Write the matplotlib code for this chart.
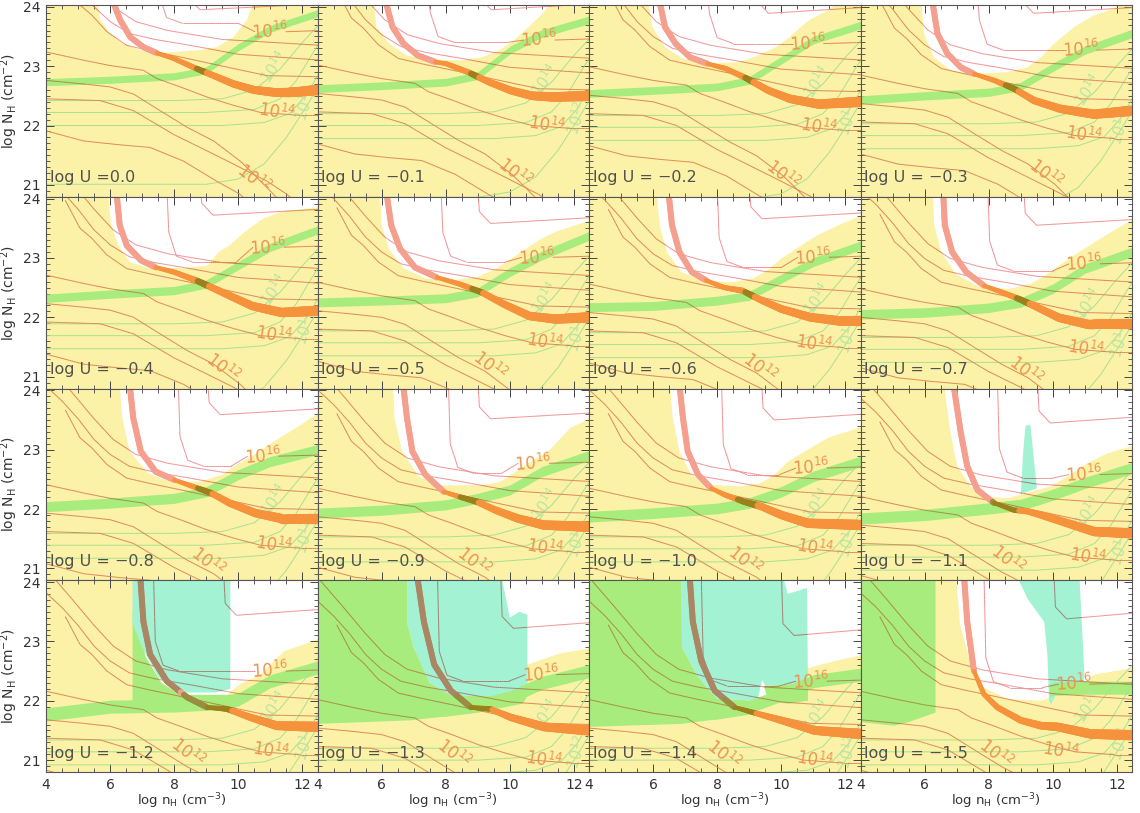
import numpy as np
import matplotlib
matplotlib.use("Agg")
import matplotlib.pyplot as plt
from matplotlib.collections import LineCollection
from matplotlib.path import Path
from matplotlib.ticker import MultipleLocator

# panel titles (log U)
LOG_U = ["0.0", "-0.1", "-0.2", "-0.3", "-0.4", "-0.5", "-0.6", "-0.7",
         "-0.8", "-0.9", "-1.0", "-1.1", "-1.2", "-1.3", "-1.4", "-1.5"]

# green band: centre log N_H at fixed log n_H, and vertical width
GREEN_X = [4, 6, 8, 9, 10, 11, 12.47]
GREEN_Y = [
    [22.73, 22.77, 22.83, 22.93, 23.32, 23.63, 23.89],
    [22.62, 22.67, 22.73, 22.84, 23.27, 23.55, 23.78],
    [22.54, 22.59, 22.65, 22.76, 23.10, 23.44, 23.69],
    [22.43, 22.50, 22.56, 22.66, 22.98, 23.27, 23.55],
    [22.32, 22.39, 22.45, 22.56, 22.87, 23.18, 23.47],
    [22.25, 22.28, 22.32, 22.42, 22.76, 23.04, 23.37],
    [22.17, 22.19, 22.28, 22.36, 22.65, 22.93, 23.21],
    [22.05, 22.08, 22.16, 22.25, 22.48, 22.82, 23.10],
    [22.04, 22.10, 22.18, 22.29, 22.58, 22.80, 23.00],
    [21.93, 21.98, 22.07, 22.18, 22.32, 22.63, 22.90],
    [21.87, 21.93, 22.01, 22.10, 22.29, 22.55, 22.80],
    [21.84, 21.90, 22.01, 22.07, 22.24, 22.44, 22.69],
    [21.77, 21.90, 21.92, 21.95, 22.02, 22.33, 22.56],
    [21.75, 21.80, 21.85, 21.92, 22.06, 22.30, 22.50],
    [21.70, 21.75, 21.80, 21.90, 22.10, 22.33, 22.44],
    [21.70, 21.75, 21.80, 21.95, 22.20, 22.22, 22.22],
]
GREEN_W = [0.12, 0.13, 0.13, 0.14, 0.14, 0.15, 0.15, 0.16,
           0.17, 0.17, 0.18, 0.19, 0.22, 0.22, 0.22, 0.22]
GREEN_XMIN = [4, 4, 4, 4, 4, 4, 4, 4, 4, 4, 4, 4, 4, 4, 4, 9.9]

# thick salmon -> orange band (centre line); BAND_SPLIT = number of salmon points
BAND = [
    [(6.08, 24.1), (6.31, 23.78), (6.63, 23.49), (7.04, 23.32), (7.46, 23.22), (7.98, 23.13), (8.6, 22.98), (9.23, 22.84), (9.85, 22.7), (10.48, 22.6), (11.1, 22.56), (11.73, 22.56), (12.5, 22.6)],
    [(6.12, 24.1), (6.34, 23.66), (6.68, 23.38), (7.13, 23.18), (7.68, 23.07), (8.02, 23.04), (8.69, 22.9), (9.36, 22.73), (10.03, 22.59), (10.7, 22.5), (11.37, 22.48), (12.5, 22.5)],
    [(6.2, 24.1), (6.37, 23.66), (6.7, 23.38), (7.15, 23.15), (7.7, 23.04), (8.26, 22.96), (8.93, 22.79), (9.6, 22.59), (10.27, 22.45), (11.17, 22.36), (12.5, 22.4)],
    [(6.24, 24.1), (6.4, 23.55), (6.71, 23.21), (7.13, 22.98), (7.54, 22.87), (8.17, 22.76), (8.79, 22.62), (9.42, 22.42), (10.25, 22.28), (11.29, 22.19), (12.5, 22.25)],
    [(6.2, 24.1), (6.3, 23.55), (6.52, 23.21), (6.96, 22.96), (7.42, 22.84), (8.0, 22.76), (8.69, 22.62), (9.5, 22.42), (10.43, 22.19), (11.35, 22.08), (12.5, 22.11)],
    [(6.15, 24.1), (6.3, 23.55), (6.58, 23.15), (7.04, 22.84), (7.73, 22.67), (8.43, 22.56), (9.12, 22.42), (9.82, 22.22), (10.62, 22.02), (11.43, 21.97), (12.5, 22.0)],
    [(6.48, 24.1), (6.59, 23.55), (6.82, 23.1), (7.21, 22.76), (7.66, 22.62), (8.22, 22.5), (8.78, 22.45), (9.33, 22.3), (10.0, 22.14), (10.9, 22.0), (11.79, 21.94), (12.5, 21.94)],
    [(6.58, 24.1), (6.63, 23.55), (6.86, 23.1), (7.3, 22.76), (7.86, 22.53), (8.42, 22.42), (8.98, 22.3), (9.54, 22.16), (10.2, 21.99), (11.1, 21.88), (12.5, 21.88)],
    [(6.61, 24.1), (6.72, 23.54), (6.96, 22.97), (7.42, 22.63), (8.0, 22.49), (8.58, 22.38), (9.15, 22.27), (9.73, 22.1), (10.54, 21.93), (11.35, 21.84), (12.5, 21.84)],
    [(6.67, 24.1), (6.79, 23.54), (6.96, 22.97), (7.36, 22.58), (7.94, 22.29), (8.4, 22.21), (8.98, 22.12), (9.56, 21.98), (10.25, 21.84), (11.06, 21.73), (12.5, 21.7)],
    [(6.82, 24.1), (6.93, 23.54), (7.08, 22.97), (7.4, 22.58), (7.81, 22.35), (8.23, 22.24), (8.85, 22.12), (9.38, 22.04), (10.0, 21.9), (10.83, 21.76), (12.5, 21.73)],
    [(6.9, 24.1), (6.97, 23.85), (7.13, 23.28), (7.33, 22.72), (7.65, 22.32), (8.17, 22.1), (8.79, 21.98), (9.21, 21.96), (9.63, 21.9), (10.46, 21.76), (11.29, 21.62), (12.5, 21.59)],
    [(6.94, 24.1), (7.04, 23.33), (7.25, 22.78), (7.77, 22.33), (8.4, 22.06), (9.02, 21.89), (9.65, 21.86), (10.38, 21.72), (11.2, 21.58), (12.5, 21.56)],
    [(7.11, 24.1), (7.32, 23.33), (7.64, 22.61), (8.16, 22.17), (8.78, 21.89), (9.4, 21.86), (10.03, 21.72), (11.07, 21.56), (12.5, 21.5)],
    [(7.14, 24.1), (7.24, 23.33), (7.5, 22.67), (7.92, 22.17), (8.54, 21.89), (9.27, 21.78), (10.0, 21.67), (11.04, 21.5), (12.5, 21.44)],
    [(7.23, 24.1), (7.33, 23.33), (7.54, 22.5), (7.85, 22.11), (8.27, 21.89), (9.0, 21.67), (9.63, 21.58), (10.15, 21.56), (11.19, 21.44), (12.5, 21.42)],
]
BAND_SPLIT = [5, 5, 5, 5, 5, 5, 5, 5, 5, 5, 5, 6, 6, 5, 5, 3]

# white (no-solution) region outline
WHITE = [
    [(5.58, 24.2), (5.69, 23.78), (6.0, 23.55), (6.42, 23.38), (6.94, 23.27), (7.46, 23.22), (8.8, 23.27), (9.33, 23.32), (9.85, 23.49), (10.27, 23.78), (10.55, 24.2)],
    [(5.73, 24.2), (5.84, 23.66), (6.23, 23.38), (6.79, 23.18), (7.46, 23.1), (8.46, 23.1), (9.13, 23.15), (9.69, 23.27), (10.14, 23.44), (10.47, 23.6), (11.03, 23.89), (11.48, 24.2)],
    [(5.8, 24.2), (5.98, 23.66), (6.37, 23.32), (6.92, 23.13), (7.59, 23.04), (8.71, 23.07), (9.27, 23.18), (9.83, 23.32), (10.27, 23.49), (10.6, 23.66), (10.94, 23.8), (11.5, 23.95), (12.0, 24.2)],
    [(5.88, 24.2), (5.98, 23.55), (6.29, 23.15), (6.81, 22.93), (7.54, 22.87), (8.58, 22.9), (9.21, 22.98), (9.63, 23.15), (10.04, 23.38), (10.67, 23.66), (11.29, 23.86), (11.92, 23.97), (12.33, 24.2)],
    [(5.92, 24.2), (6.03, 23.55), (6.26, 23.21), (6.61, 22.93), (7.19, 22.83), (8.35, 22.83), (9.04, 22.87), (9.39, 23.1), (9.73, 23.21), (10.2, 23.44), (10.77, 23.66), (11.35, 23.78), (12.6, 23.86), (12.6, 24.2)],
    [(5.94, 24.2), (6.0, 23.55), (6.23, 23.15), (6.69, 22.82), (7.39, 22.65), (8.2, 22.62), (9.0, 22.68), (9.58, 22.82), (10.05, 22.99), (10.5, 23.15), (10.97, 23.32), (11.43, 23.44), (12.6, 23.65), (12.6, 24.2)],
    [(6.1, 24.2), (6.2, 23.55), (6.43, 23.1), (6.88, 22.76), (7.54, 22.62), (8.43, 22.59), (9.1, 22.65), (9.56, 22.79), (10.0, 22.99), (10.45, 23.15), (11.12, 23.38), (11.79, 23.55), (12.6, 23.74), (12.6, 24.2)],
    [(6.24, 24.2), (6.3, 23.55), (6.52, 23.1), (6.97, 22.73), (7.75, 22.5), (8.64, 22.48), (9.31, 22.56), (9.76, 22.7), (10.2, 22.87), (10.65, 23.04), (11.32, 23.27), (11.99, 23.49), (12.6, 23.68), (12.6, 24.2)],
    [(6.28, 24.2), (6.38, 23.54), (6.61, 22.97), (7.19, 22.6), (7.88, 22.46), (8.81, 22.46), (9.5, 22.58), (9.96, 22.75), (10.42, 22.89), (11.12, 23.14), (11.81, 23.37), (12.6, 23.65), (12.6, 24.2)],
    [(6.35, 24.2), (6.4, 23.54), (6.64, 22.97), (7.16, 22.55), (7.85, 22.4), (9.12, 22.4), (9.7, 22.46), (10.05, 22.58), (10.51, 22.75), (11.2, 22.97), (11.9, 23.37), (12.6, 23.55), (12.6, 24.2)],
    [(6.51, 24.2), (6.61, 23.54), (6.82, 22.97), (7.19, 22.58), (7.71, 22.41), (8.75, 22.38), (9.38, 22.44), (9.79, 22.58), (10.21, 22.8), (10.83, 23.0), (11.46, 23.2), (12.6, 23.4), (12.6, 24.2)],
    [(6.6, 24.2), (6.66, 23.85), (6.81, 23.28), (7.02, 22.72), (7.44, 22.38), (7.96, 22.21), (8.58, 22.18), (9.52, 22.32), (9.94, 22.38), (10.46, 22.55), (11.08, 22.77), (11.71, 22.94), (12.6, 23.08), (12.6, 24.2)],
    [(6.75, 24.2), (6.85, 23.3), (7.1, 22.7), (7.6, 22.3), (8.4, 22.05), (9.5, 22.0), (9.75, 22.15), (10.06, 22.28), (10.69, 22.44), (11.42, 22.83), (12.6, 23.06), (12.6, 24.2)],
    [(6.9, 24.2), (7.0, 23.3), (7.3, 22.6), (7.8, 22.2), (8.6, 22.0), (9.8, 22.0), (10.55, 22.61), (11.59, 22.8), (12.6, 22.89), (12.6, 24.2)],
    [(6.95, 24.2), (7.05, 23.3), (7.3, 22.6), (7.7, 22.2), (8.4, 21.95), (9.6, 21.95), (10.83, 22.55), (11.67, 22.67), (12.6, 22.78), (12.6, 24.2)],
    [(6.97, 24.2), (7.1, 23.3), (7.44, 22.61), (7.85, 22.22), (8.58, 22.03), (9.63, 22.0), (10.67, 22.19), (11.29, 22.44), (12.6, 22.56), (12.6, 24.2)],
]

# teal and light-green solution patches (only some panels)
TEAL = {
    11: [[(9.0, 22.25), (9.08, 23.0), (9.15, 23.4), (9.3, 23.42), (9.38, 23.0), (9.5, 22.35)]],
    12: [[(6.7, 24.2), (9.75, 24.2), (9.75, 22.2), (9.3, 22.14), (8.1, 22.14), (7.5, 22.4), (7.0, 22.9), (6.7, 23.3)]],
    13: [[(6.8, 24.2), (9.7, 24.2), (10.0, 23.4), (10.3, 23.5), (10.55, 23.45), (10.55, 22.08), (8.2, 22.08), (7.5, 22.3), (7.0, 22.9), (6.8, 23.3)]],
    14: [[(6.88, 24.2), (10.0, 24.2), (10.2, 23.8), (10.8, 23.9), (10.83, 22.3), (9.5, 22.25), (9.4, 22.35), (9.25, 22.0), (8.0, 22.03), (7.4, 22.4), (6.9, 22.9)]],
    15: [[(8.79, 24.2), (10.82, 24.2), (10.98, 22.5), (10.95, 22.28), (10.2, 22.22), (9.95, 21.94), (9.88, 22.0), (9.83, 22.78), (9.73, 23.33), (9.21, 23.72)]],
}
GPATCH = {
    12: [[(6.7, 21.85), (6.7, 23.5), (6.9, 23.3), (7.1, 22.75), (7.6, 22.3), (8.2, 22.1), (9.75, 22.1), (10.0, 22.05), (9.9, 21.83), (8.0, 21.83)]],
    13: [[(4, 24.2), (6.8, 24.2), (6.8, 23.3), (7.0, 22.9), (7.5, 22.3), (8.2, 22.08), (10.55, 22.08), (10.4, 21.95), (9.0, 21.8), (6.9, 21.67), (4, 21.61)]],
    14: [[(4, 24.2), (6.88, 24.2), (6.9, 22.9), (7.4, 22.4), (8.0, 22.03), (9.25, 22.0), (9.2, 21.78), (8.44, 21.72), (6.88, 21.61), (4, 21.56)],
         [(9.45, 22.25), (10.83, 22.3), (10.83, 22.0), (10.2, 21.95), (9.6, 22.0)]],
    15: [[(4, 24.2), (6.34, 24.2), (6.34, 21.8), (5.5, 21.64), (5.04, 21.58), (4, 21.64)]],
}

# contour label positions
LAB16 = [(11.0, 23.58), (10.92, 23.44), (10.83, 23.38), (10.88, 23.27), (10.94, 23.18), (10.86, 23.01), (11.0, 23.01), (10.99, 22.9),
         (10.77, 22.89), (10.74, 22.77), (10.94, 22.69), (10.98, 22.58), (11.0, 22.5), (10.97, 22.44), (10.94, 22.33), (10.66, 22.28)]
LAB14 = [(11.2, 22.22), (11.14, 22.0), (11.17, 21.97), (10.98, 21.83), (11.12, 21.69), (11.09, 21.57), (11.0, 21.54), (11.04, 21.46),
         (11.12, 21.39), (11.09, 21.33), (11.04, 21.33), (11.08, 21.19), (11.0, 21.14), (11.07, 21.0), (11.03, 21.0), (10.25, 21.14)]
LAB12 = [(10.47, 21.1), (10.14, 21.2), (10.03, 21.17), (9.78, 21.18), (9.5, 21.15), (9.37, 21.18), (9.33, 21.15), (9.14, 21.1),
         (9.04, 21.1), (8.86, 21.1), (8.84, 21.12), (8.6, 21.14), (8.4, 21.12), (8.25, 21.1), (8.2, 21.08), (8.2, 21.1)]

# thin contours inside the white region: (x at top, floor level)
RED_A = [(7.46, 23.72), (7.46, 23.4), (7.7, 23.38), (7.65, 23.27), (7.77, 22.93), (7.85, 22.93), (8.0, 22.84), (7.97, 22.78),
         (8.12, 22.72), (8.08, 22.6), (8.13, 22.58), (8.27, 22.52), (7.35, 22.5), (7.74, 22.33), (7.5, 22.25), (7.85, 22.22)]
RED_B = [(8.4, 23.95), (9.02, 23.95), (9.2, 23.89), (9.0, 23.89), (8.81, 23.72), (9.0, 23.58), (9.0, 23.66), (9.09, 23.55),
         (9.04, 23.59), (9.0, 23.52), (9.38, 23.5), (9.52, 23.45), (9.54, 23.44), (9.71, 23.22), (10.0, 23.1), (10.03, 23.38)]

# thin orange contour family as seen in the log U = 0 panel (shifted down in the others)
ORANGE_LINES = [
    [(4.0, 25.3), (4.8, 24.8), (5.5, 24.35), (6.1, 24.0), (6.8, 23.75), (7.8, 23.6), (9.5, 23.45), (12.6, 23.35)],
    [(4.0, 24.9), (4.5, 24.65), (5.0, 24.35), (5.5, 24.0), (6.0, 23.75), (6.6, 23.55), (7.4, 23.45), (8.5, 23.35), (10.0, 23.2), (12.6, 23.1)],
    [(4.6, 24.5), (5.06, 24.03), (5.43, 23.86), (5.9, 23.58), (6.52, 23.35), (7.25, 23.26), (8.4, 23.13), (9.85, 22.96), (10.9, 22.84), (12.6, 22.82)],
    [(4.0, 23.24), (5.17, 23.1), (6.0, 23.01), (7.04, 22.93), (7.46, 22.79), (8.19, 22.65), (9.02, 22.48), (9.85, 22.34), (10.69, 22.22), (11.94, 22.17), (12.6, 22.17)],
    [(4.0, 22.76), (5.17, 22.7), (6.0, 22.65), (6.73, 22.53), (7.56, 22.25), (8.4, 21.97), (9.23, 21.74), (10.06, 21.4), (10.48, 21.18), (11.1, 20.84), (11.5, 20.6)],
    [(4.0, 22.45), (5.69, 22.42), (6.73, 22.25), (7.98, 21.85), (8.81, 21.63), (9.85, 21.35), (10.9, 21.06), (11.52, 20.84), (12.0, 20.6)],
    [(4.0, 21.91), (5.17, 21.74), (6.21, 21.68), (7.25, 21.63), (8.29, 21.4), (9.33, 21.06), (10.06, 20.84), (10.5, 20.6)],
]
GREEN_LINES = [
    [(4.0, 22.42), (8.0, 22.42), (9.5, 22.45), (10.5, 22.6), (11.3, 22.95), (12.0, 23.4), (12.6, 23.75)],
    [(4.0, 22.22), (9.0, 22.22), (10.5, 22.27), (11.3, 22.45), (11.8, 22.75), (12.3, 23.2), (12.6, 23.45)],
    [(4.0, 22.0), (9.5, 22.0), (10.8, 22.05), (11.6, 22.2), (12.1, 22.5), (12.6, 22.95)],
    [(4.0, 21.01), (9.0, 21.01), (10.0, 21.1), (10.8, 21.35), (11.5, 21.8), (12.1, 22.3), (12.6, 22.75)],
]

YELLOW = "#fbf2a8"
GREEN = "#a9ec7e"
TEALC = "#a3f2d3"
SALMON = "#f5a08e"
ORANGE = "#f7923c"
LINE_OR = "#dd8550"
LINE_RED = "#ef8f92"
LINE_ON_TEAL = "#9c8274"
LINE_ON_GREEN = "#a88a45"
LINE_GR = "#a9e08e"
TXT = "#505050"


def rgb(c):
    return np.array(matplotlib.colors.to_rgb(c))


def region(i, x, y):
    """What lies under the point: 'teal', 'green', 'white' or 'yellow'."""
    for poly in TEAL.get(i, []):
        if Path(poly).contains_point((x, y)):
            return "teal"
    for poly in GPATCH.get(i, []):
        if Path(poly).contains_point((x, y)):
            return "green"
    if x >= GREEN_XMIN[i] and abs(y - np.interp(x, GREEN_X, GREEN_Y[i])) < GREEN_W[i] / 2:
        return "green"
    if Path(WHITE[i]).contains_point((x, y)):
        return "white"
    return "yellow"


def split(pts, step=0.06):
    out = []
    for (x0, y0), (x1, y1) in zip(pts[:-1], pts[1:]):
        n = max(1, int(np.hypot(x1 - x0, y1 - y0) / step))
        for t in range(n):
            a, b = t / n, (t + 1) / n
            out.append(((x0 + (x1 - x0) * a, y0 + (y1 - y0) * a),
                        (x0 + (x1 - x0) * b, y0 + (y1 - y0) * b)))
    return out


def draw_thin(ax, i, pts):
    segs, cols = [], []
    for a, b in split(pts):
        where = region(i, (a[0] + b[0]) / 2, (a[1] + b[1]) / 2)
        segs.append([a, b])
        cols.append({"teal": LINE_ON_TEAL, "green": LINE_ON_GREEN,
                     "white": LINE_RED, "yellow": LINE_OR}[where])
    ax.add_collection(LineCollection(segs, colors=cols, linewidths=0.7, zorder=5))


def draw_band(ax, i):
    pts = BAND[i]
    ns = BAND_SPLIT[i]
    segs, cols, lws = [], [], []
    n_or = len(pts) - ns
    for k in range(len(pts) - 1):
        (x0, y0), (x1, y1) = pts[k], pts[k + 1]
        if k < ns - 1:
            base, w0, w1 = SALMON, 4.3, 4.3
        else:
            j = k - (ns - 1)
            base = ORANGE
            w0 = 3.0 + 4.5 * j / max(n_or, 1)
            w1 = 3.0 + 4.5 * (j + 1) / max(n_or, 1)
        for a, b in split([(x0, y0), (x1, y1)], 0.05):
            where = region(i, (a[0] + b[0]) / 2, (a[1] + b[1]) / 2)
            c = rgb(base)
            if where == "teal":
                c = c * rgb("#b2d6b4")
            elif where == "green":
                c = c * rgb(GREEN) * 0.95
            segs.append([a, b])
            cols.append(c)
            f = (a[0] - x0) / (x1 - x0) if x1 != x0 else 0
            lws.append(w0 + (w1 - w0) * f)
    ax.add_collection(LineCollection(segs, colors=cols, linewidths=lws,
                                     capstyle="round", joinstyle="round", zorder=6))


def sup(p):
    return r"$10^{%d}$" % p


fig = plt.figure(figsize=(11.4, 8.13), dpi=100)
L, R, T, B = 46 / 1140, 1132 / 1140, 1 - 5 / 813, 1 - 772 / 813
W, H = (R - L) / 4, (T - B) / 4

for i in range(16):
    r, c = divmod(i, 4)
    ax = fig.add_axes([L + c * W, T - (r + 1) * H, W, H])
    ax.set_xlim(4, 12.47)
    ax.set_ylim(20.8, 24.03)
    ax.set_facecolor(YELLOW)

    ax.fill(*zip(*WHITE[i]), color="white", lw=0, zorder=1)
    for poly in GPATCH.get(i, []):
        ax.fill(*zip(*poly), color=GREEN, lw=0, zorder=2)
    for poly in TEAL.get(i, []):
        ax.fill(*zip(*poly), color=TEALC, lw=0, zorder=2)

    # green band
    gx = np.array(GREEN_X, dtype=float)
    gy = np.array(GREEN_Y[i])
    if GREEN_XMIN[i] > 4:
        gxx = np.concatenate([[GREEN_XMIN[i]], gx[gx > GREEN_XMIN[i]]])
    else:
        gxx = gx
    gyy = np.interp(gxx, gx, gy)
    ax.fill_between(gxx, gyy - GREEN_W[i] / 2, gyy + GREEN_W[i] / 2, color=GREEN, lw=0, zorder=3)

    # thin contours, shifted with the 10^14 label of each panel
    dy = LAB14[i][1] - LAB14[0][1]
    for line in GREEN_LINES:
        xs, ys = zip(*line)
        ax.plot(xs, np.array(ys) + dy, color=LINE_GR, lw=0.7, zorder=4)
    for line in ORANGE_LINES:
        draw_thin(ax, i, [(x, y + dy) for x, y in line])

    xt, yf = RED_A[i]
    lx, ly = LAB16[i]
    draw_thin(ax, i, [(xt, 24.2), (xt + 0.06, yf + 0.5), (xt + 0.3, yf + 0.1), (xt + 0.8, yf),
                      (max(lx - 1.0, xt + 0.9), yf), (lx - 0.48, ly)])
    draw_thin(ax, i, [(lx + 0.48, ly), (12.6, ly + 0.02)])
    xt, yf = RED_B[i]
    draw_thin(ax, i, [(xt, 24.2), (xt + 0.05, yf + 0.2), (xt + 0.4, yf), (12.6, yf + 0.1)])

    draw_band(ax, i)

    # contour labels
    ax.text(*LAB16[i], sup(16), color="#eb9550", fontsize=12, rotation=4,
            ha="center", va="center", zorder=7)
    ax.text(*LAB14[i], sup(14), color="#eb9550", fontsize=12, rotation=-10,
            ha="center", va="center", zorder=7)
    ax.text(*LAB12[i], sup(12), color="#eb9550", fontsize=12, rotation=-38,
            ha="center", va="center", zorder=7)
    ax.text(11.1, 22.98 + dy, sup(14), color="#b8e6a0", fontsize=11, rotation=55,
            ha="center", va="center", zorder=4)
    ax.text(12.1, 22.35 + dy, sup(12), color="#b8e6a0", fontsize=11, rotation=72,
            ha="center", va="center", zorder=4)

    u = LOG_U[i]
    label = "log U =0.0" if u == "0.0" else "log U = \u2212" + u[1:]
    ax.text(4.12, 21.12, label, color=TXT, fontsize=11.5, ha="left", va="center", zorder=8)

    ax.xaxis.set_major_locator(MultipleLocator(2))
    ax.xaxis.set_minor_locator(MultipleLocator(0.5))
    ax.yaxis.set_major_locator(MultipleLocator(1))
    ax.yaxis.set_minor_locator(MultipleLocator(0.1))
    ax.tick_params(which="both", direction="in", top=True, right=True, colors="#444444",
                   labelsize=10, labelcolor="#333333")
    ax.tick_params(which="major", length=6, width=0.7, pad=4)
    ax.tick_params(which="minor", length=3, width=0.6)
    for s in ax.spines.values():
        s.set_color("#555555")
        s.set_linewidth(0.8)
        s.set_zorder(10)
    if c == 0:
        ax.set_ylabel(r"log N$_\mathrm{H}$ (cm$^{-2}$)", fontsize=10, color="#333333", labelpad=2)
    else:
        ax.set_yticklabels([])
    if r == 3:
        ax.set_xlabel(r"log n$_\mathrm{H}$ (cm$^{-3}$)", fontsize=9.5, color="#333333", labelpad=0)
    else:
        ax.set_xticklabels([])

fig.savefig("out.png", dpi=100)
